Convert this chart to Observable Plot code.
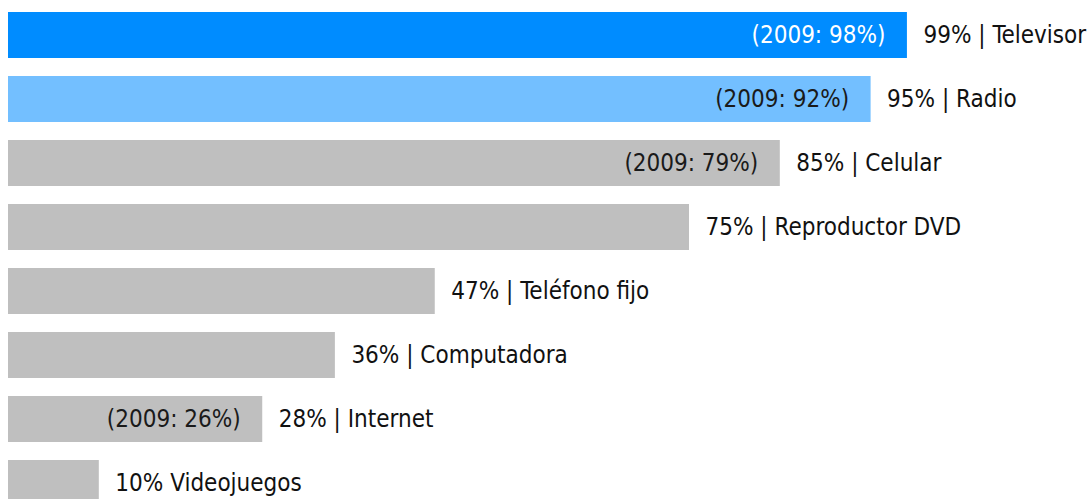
<!DOCTYPE html>
<html>
<head>
<meta charset="utf-8">
<script src="https://cdn.jsdelivr.net/npm/d3@7"></script>
<script src="https://cdn.jsdelivr.net/npm/@observablehq/plot@0.6"></script>
<style>
  html, body { margin: 0; padding: 0; background: #fff; overflow: hidden; }
</style>
</head>
<body>
<div id="chart"></div>
<script>
const categories = ["Televisor", "Radio", "Celular", "Reproductor DVD", "Teléfono fijo", "Computadora", "Internet", "Videojuegos"];
const values2 = [99, 95, 85, 75, 47, 36, 28, 10];
const values2009 = [98, 92, 79, null, null, null, 26, null];
const labels = ["99% | Televisor", "95% | Radio", "85% | Celular", "75% | Reproductor DVD", "47% | Teléfono fijo", "36% | Computadora", "28% | Internet", "10% Videojuegos"];
const barColors = ["#008cff", "#73bfff", "#bfbfbf", "#bfbfbf", "#bfbfbf", "#bfbfbf", "#bfbfbf", "#bfbfbf"];
const innerColors = ["#ffffff", "#1a1a1a", "#1a1a1a", "#1a1a1a", "#1a1a1a", "#1a1a1a", "#1a1a1a", "#1a1a1a"];

const data = categories.map((c, i) => ({
  cat: c, v: values2[i], old: values2009[i], label: labels[i],
  fill: barColors[i], inner: innerColors[i]
}));
const withOld = data.filter(d => d.old != null);

const font = "'Liberation Sans Narrow', 'DejaVu Sans Condensed', 'Roboto Condensed', sans-serif";

const chart = Plot.plot({
  width: 1090,
  height: 499,
  marginLeft: 8,
  marginRight: 174,
  marginTop: 0,
  marginBottom: 0,
  style: { fontFamily: font, background: "#fff", overflow: "hidden" },
  x: { domain: [0, 100], range: [8, 916], axis: null },
  y: { domain: categories, range: [12, 507], paddingInner: 0.28, paddingOuter: 0, axis: null },
  color: { type: "identity" },
  marks: [
    Plot.barX(data, { x: "v", y: "cat", fill: "fill" }),
    Plot.text(data, {
      x: "v", y: "cat", text: "label", textAnchor: "start", dx: 16,
      fill: "#111", fontSize: 24, fontFamily: font
    }),
    Plot.text(withOld, {
      x: "v", y: "cat", text: d => `(2009: ${d.old}%)`, textAnchor: "end", dx: -22,
      fill: "inner", fontSize: 24, fontFamily: font
    })
  ]
});
document.getElementById("chart").appendChild(chart);
</script>
</body>
</html>
